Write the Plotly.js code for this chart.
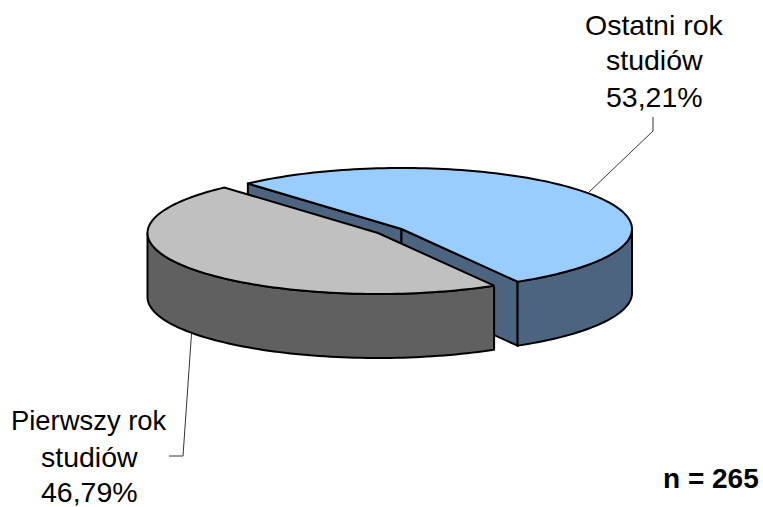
<!DOCTYPE html>
<html><head><meta charset="utf-8">
<script src="https://cdn.plot.ly/plotly-3.0.1.min.js"></script>
<style>html,body{margin:0;padding:0;background:#fff}#c{width:763px;height:507px}</style>
</head><body><div id="c"></div>
<script>
// Data
const categories = ["Ostatni rok studiów", "Pierwszy rok studiów"];
const categoryLines = [["Ostatni rok", "studiów"], ["Pierwszy rok", "studiów"]];
const shares = [53.21, 46.79];
const sampleNote = "n = 265";

// Style / geometry of the tilted pie
const topColors = ["#99CCFF", "#C0C0C0"];
const sideColors = ["#4D6480", "#606060"];
const startAngle = 228.2;           // clockwise on screen, parametric degrees
const rx = 230.5, ry = 61, depth = 64;
const centers = [[401.5, 229], [378, 233]];
const elbows = [[[653, 131], [653, 117]], [[183, 456], [169, 456]]];
const labelX = [654, 89];
const labelY = [[25, 60, 97], [420, 457, 492]];
const labelSizes = [[28.5, 28.5, 28.5], [27.4, 28.5, 28.5]];

const sweep = shares.map(s => s / 100 * 360);
const ranges = [[startAngle, startAngle + sweep[0]],
                [startAngle + sweep[0], startAngle + sweep[0] + sweep[1]]];

function pt(i, deg, dz) {
  const a = deg * Math.PI / 180;
  return [centers[i][0] + rx * Math.cos(a), centers[i][1] + ry * Math.sin(a) + (dz || 0)];
}
function arc(i, a0, a1, dz) {
  const n = Math.max(2, Math.round(Math.abs(a1 - a0) / 1.5)), out = [];
  for (let k = 0; k <= n; k++) out.push(pt(i, a0 + (a1 - a0) * k / n, dz));
  return out;
}
function poly(points, fill, width, color) {
  const xs = points.map(p => p[0]), ys = points.map(p => p[1]);
  return {type: "scatter", mode: "lines", x: xs, y: ys, fill: fill ? "toself" : "none",
    fillcolor: fill || undefined, line: {color: color || "#000", width: width || 2, simplify: false},
    hoverinfo: "skip", showlegend: false};
}

const traces = [];
function drawSlice(i) {
  const [a0, a1] = ranges[i], c = centers[i];
  const apex = c, apexB = [c[0], c[1] + depth];
  if (i === 0) {
    // cut faces visible from the front
    const p0 = pt(i, a0), p1 = pt(i, a1);
    traces.push(poly([apex, p0, pt(i, a0, depth), apexB, apex], sideColors[i]));
    traces.push(poly([apex, p1, pt(i, a1, depth), apexB, apex], sideColors[i]));
    // rim, front part: from the rightmost point to the slice end
    const from = 360, to = a1;
    traces.push(poly(arc(i, from, to).concat(arc(i, to, from, depth)).concat([pt(i, from)]), sideColors[i]));
  } else {
    // rim, front part: from the slice start to the leftmost point (180 + 360)
    const to = 540;
    traces.push(poly(arc(i, a0, to).concat(arc(i, to, a0, depth)).concat([pt(i, a0)]), sideColors[i]));
  }
  traces.push(poly([apex].concat(arc(i, a0, a1)).concat([apex]), topColors[i]));
}
drawSlice(0);
drawSlice(1);

// Leader lines start from each slice's mid angle
ranges.forEach((r, i) => {
  const mid = (r[0] + r[1]) / 2;
  const start = pt(i, mid, i === 1 ? depth : 0);
  traces.push(poly([start].concat(elbows[i]), null, 1, "#333"));
});

const fontFamily = "Liberation Sans, Arial, sans-serif";
const annotations = [];
categories.forEach((name, i) => {
  const lines = categoryLines[i].concat([shares[i].toFixed(2).replace(".", ",") + "%"]);
  lines.forEach((t, k) => annotations.push({
    x: labelX[i], y: labelY[i][k], xref: "x", yref: "y", text: t, showarrow: false,
    xanchor: "center", yanchor: "middle", font: {family: fontFamily, size: labelSizes[i][k], color: "#000"}
  }));
});
annotations.push({x: 710.5, y: 478, xref: "x", yref: "y", text: "<b>" + sampleNote + "</b>", showarrow: false,
  xanchor: "center", yanchor: "middle", font: {family: fontFamily, size: 28, color: "#000"}});

Plotly.newPlot("c", traces, {
  width: 763, height: 507, margin: {l: 0, r: 0, t: 0, b: 0}, showlegend: false,
  paper_bgcolor: "#fff", plot_bgcolor: "#fff",
  xaxis: {range: [0, 763], visible: false, fixedrange: true},
  yaxis: {range: [507, 0], visible: false, fixedrange: true},
  annotations
}, {staticPlot: true, displayModeBar: false});
</script></body></html>
